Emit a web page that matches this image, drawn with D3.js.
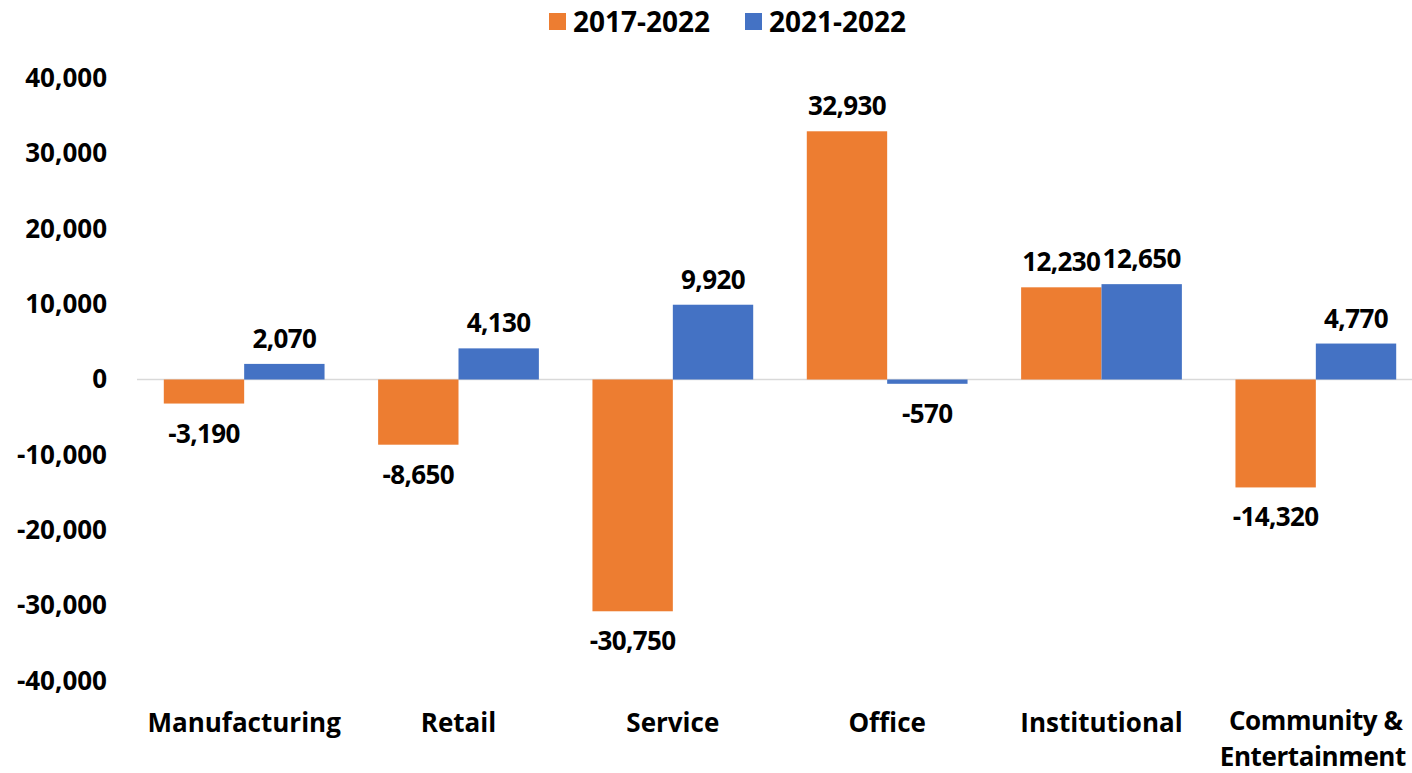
<!DOCTYPE html>
<html><head><meta charset="utf-8">
<script src="https://cdn.jsdelivr.net/npm/d3@7"></script>
<style>body{margin:0;background:#fff}svg text{font-family:"Open Sans",sans-serif;font-weight:700;fill:#000}</style>
</head><body><svg id="c" width="1412" height="773"></svg>
<script>
const categories = ["Manufacturing","Retail","Service","Office","Institutional","Community & Entertainment"];
const seriesNames = ["2017-2022","2021-2022"];
const values2017 = [-3190,-8650,-30750,32930,12230,-14320];
const values2021 = [2070,4130,9920,-570,12650,4770];
const yTicks = [-40000,-30000,-20000,-10000,0,10000,20000,30000,40000];
const colors = ["#ED7D31","#4472C4"];

const svg = d3.select("#c");
const y = d3.scaleLinear().domain([-40000,40000]).range([681,78]);
const x = d3.scaleBand().domain(categories).range([137,1423]).paddingInner(0.25).paddingOuter(0.125);
const xs = d3.scaleBand().domain(seriesNames).range([0,x.bandwidth()]);
const f0 = d3.format(",");
const fmt = d => f0(d).replace("\u2212","-");

// y axis labels
const ya = svg.append("g").attr("transform","translate(107,0)")
  .call(d3.axisLeft(y).tickValues(yTicks).tickSize(0).tickPadding(0).tickFormat(fmt));
ya.select(".domain").remove();
ya.selectAll("text").style("font-size","26px").style("font-family","'Open Sans',sans-serif").style("font-weight","700").attr("fill","#000");

// zero line
svg.append("line").attr("x1",137).attr("x2",1412).attr("y1",y(0)).attr("y2",y(0)).attr("stroke","#d9d9d9").attr("stroke-width",1.5);

const series = [values2017, values2021];
series.forEach((vals,si)=>{
  const g = svg.append("g");
  g.selectAll("rect").data(vals).join("rect")
    .attr("x",(d,i)=>x(categories[i])+xs(seriesNames[si]))
    .attr("width",xs.bandwidth())
    .attr("y",d=>Math.min(y(d),y(0)))
    .attr("height",d=>Math.abs(y(d)-y(0)))
    .attr("fill",colors[si]);
  g.selectAll("text").data(vals).join("text")
    .attr("x",(d,i)=>x(categories[i])+xs(seriesNames[si])+xs.bandwidth()/2)
    .attr("y",d=> d>=0 ? y(d)-16 : y(d)+39)
    .attr("text-anchor","middle")
    .style("font-size","26px")
    .style("letter-spacing","-0.6px")
    .text(d=>fmt(d));
});

// category labels
const xa = svg.append("g");
categories.forEach(c=>{
  const cx = x(c)+x.bandwidth()/2;
  if(c.startsWith("Community")){
    const t = xa.append("text").attr("x",cx).attr("y",730).attr("text-anchor","middle").style("font-size","26px").style("letter-spacing","-0.4px");
    t.append("tspan").attr("x",cx).text("Community &");
    t.append("tspan").attr("x",cx - 3).attr("dy",36).text("Entertainment");
  } else {
    xa.append("text").attr("x",cx).attr("y",732).attr("text-anchor","middle").style("font-size","26px").text(c);
  }
});

// legend
const lg = svg.append("g");
const lx = [549,745];
seriesNames.forEach((s,i)=>{
  lg.append("rect").attr("x",lx[i]).attr("y",13).attr("width",17).attr("height",17).attr("fill",colors[i]);
  lg.append("text").attr("x",lx[i]+24).attr("y",32).style("font-size","28px").text(s);
});
</script></body></html>
